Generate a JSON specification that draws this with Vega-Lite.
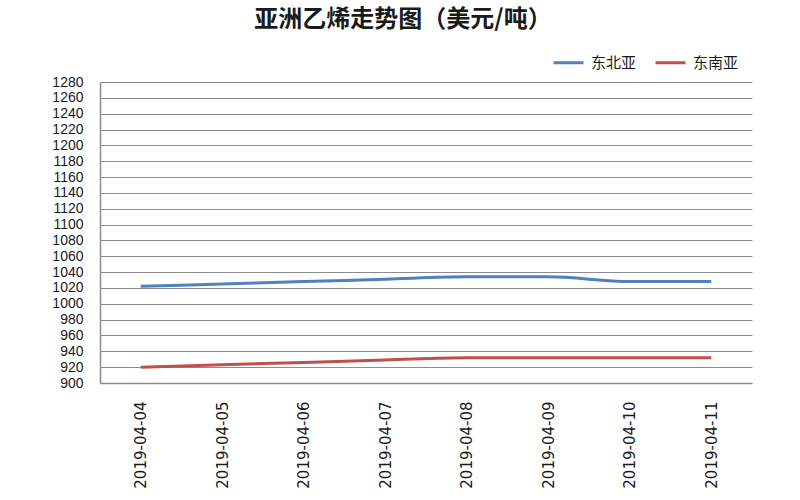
{
  "$schema": "https://vega.github.io/schema/vega-lite/v6.json",
  "width": 652,
  "height": 301,
  "autosize": {"type": "none"},
  "padding": {"left": 100, "top": 82, "right": 48, "bottom": 117},
  "background": "white",
  "title": {
    "text": "亚洲乙烯走势图（美元/吨）",
    "font": "Noto Sans CJK SC",
    "fontSize": 24,
    "fontWeight": "bold",
    "color": "#1a1a1a",
    "anchor": "middle",
    "dx": -23,
    "offset": 14
  },
  "config": {
    "view": {"stroke": null},
    "font": "Liberation Sans"
  },
  "data": {
    "values": [
      {"date": "2019-04-04", "region": "东北亚", "price": 1022},
      {"date": "2019-04-05", "region": "东北亚", "price": 1025},
      {"date": "2019-04-06", "region": "东北亚", "price": 1028},
      {"date": "2019-04-07", "region": "东北亚", "price": 1031},
      {"date": "2019-04-08", "region": "东北亚", "price": 1034},
      {"date": "2019-04-09", "region": "东北亚", "price": 1034},
      {"date": "2019-04-10", "region": "东北亚", "price": 1028},
      {"date": "2019-04-11", "region": "东北亚", "price": 1028},
      {"date": "2019-04-04", "region": "东南亚", "price": 920},
      {"date": "2019-04-05", "region": "东南亚", "price": 923},
      {"date": "2019-04-06", "region": "东南亚", "price": 926},
      {"date": "2019-04-07", "region": "东南亚", "price": 929},
      {"date": "2019-04-08", "region": "东南亚", "price": 932},
      {"date": "2019-04-09", "region": "东南亚", "price": 932},
      {"date": "2019-04-10", "region": "东南亚", "price": 932},
      {"date": "2019-04-11", "region": "东南亚", "price": 932}
    ]
  },
  "mark": {"type": "line", "strokeWidth": 3, "interpolate": "monotone"},
  "encoding": {
    "x": {
      "field": "date",
      "type": "ordinal",
      "scale": {"type": "point", "padding": 0.5},
      "axis": {
        "title": null,
        "labelAngle": -90,
        "labelFont": "DejaVu Sans",
        "labelFontSize": 15,
        "labelColor": "#1a1a1a",
        "labelPadding": 18,
        "ticks": false,
        "domainColor": "#8c8c8c",
        "domainWidth": 1.5,
        "grid": false
      }
    },
    "y": {
      "field": "price",
      "type": "quantitative",
      "scale": {"domain": [900, 1280], "nice": false, "zero": false},
      "axis": {
        "title": null,
        "format": "d",
        "values": [900, 920, 940, 960, 980, 1000, 1020, 1040, 1060, 1080, 1100, 1120, 1140, 1160, 1180, 1200, 1220, 1240, 1260, 1280],
        "labelFont": "Liberation Sans",
        "labelFontSize": 14,
        "labelColor": "#1a1a1a",
        "labelPadding": 17,
        "ticks": false,
        "domainColor": "#8c8c8c",
        "domainWidth": 1.5,
        "gridColor": "#8c8c8c",
        "gridWidth": 1.2,
        "labelOverlap": false
      }
    },
    "color": {
      "field": "region",
      "type": "nominal",
      "scale": {"domain": ["东北亚", "东南亚"], "range": ["#4F81BD", "#C0504D"]},
      "legend": {
        "title": null,
        "orient": "none",
        "direction": "horizontal",
        "legendX": 452,
        "legendY": -36,
        "symbolType": "stroke",
        "symbolStrokeWidth": 3,
        "symbolSize": 900,
        "labelFont": "Noto Sans CJK SC",
        "labelFontSize": 15,
        "labelColor": "#1a1a1a",
        "columnPadding": 12,
        "labelOffset": 6
      }
    }
  }
}
